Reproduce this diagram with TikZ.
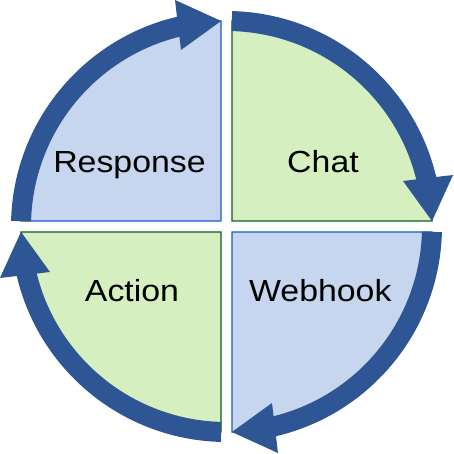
\documentclass[tikz,border=0pt]{standalone}
\usepackage{fontspec}
\setmainfont{Liberation Sans}
\definecolor{arrowc}{HTML}{2E5594}
\definecolor{bluefill}{HTML}{C6D6EE}
\definecolor{greenfill}{HTML}{D5EFC0}
\definecolor{blueedge}{HTML}{1A5CC4}
\definecolor{greenedge}{HTML}{0A5E22}
\tikzset{
  bluesec/.style={fill=bluefill,draw=blueedge,line width=1.3pt},
  greensec/.style={fill=greenfill,draw=greenedge,line width=1.3pt},
  lab/.style={anchor=base,inner sep=0pt,font=\fontsize{30.5}{36}\selectfont},
  cyc/.style={fill=arrowc}
}
\newcommand{\wlab}[1]{\scalebox{1.11}[1]{#1}}
\begin{document}
\begin{tikzpicture}[x=1pt,y=1pt]
\useasboundingbox (-226.5,-227.5) rectangle (226.5,226.5);
% sectors
\filldraw[bluesec] (-5.5,5.5) -- ++(-200,0) arc[start angle=180,end angle=90,radius=200] -- cycle;
\filldraw[greensec] (5.5,5.5) -- ++(0,200) arc[start angle=90,end angle=0,radius=200] -- cycle;
\filldraw[bluesec] (5.5,-5.5) -- ++(200,0) arc[start angle=0,end angle=-90,radius=200] -- cycle;
\filldraw[greensec] (-5.5,-5.5) -- ++(0,-200) arc[start angle=270,end angle=180,radius=200] -- cycle;
% cycle arrows
\foreach \r in {0,90,180,270}{
  \begin{scope}[rotate=\r]
    \fill[cyc] (88.5:215.5) arc[start angle=88.5,end angle=13.3,radius=215.5]
      -- (12.8:232.3) -- (1.5:205.6) -- (14.45:182.3) -- (13.94:195.5)
      arc[start angle=13.94,end angle=88.5,radius=195.5] -- cycle;
  \end{scope}
}
% labels
\node[lab] (response) at (-97,54) {\wlab{Response}};
\node[lab] (chat) at (96.5,54) {\wlab{Chat}};
\node[lab] (action) at (-94.5,-75.4) {\wlab{Action}};
\node[lab] (webhook) at (93.8,-75.4) {\wlab{Webhook}};
\end{tikzpicture}
\end{document}
